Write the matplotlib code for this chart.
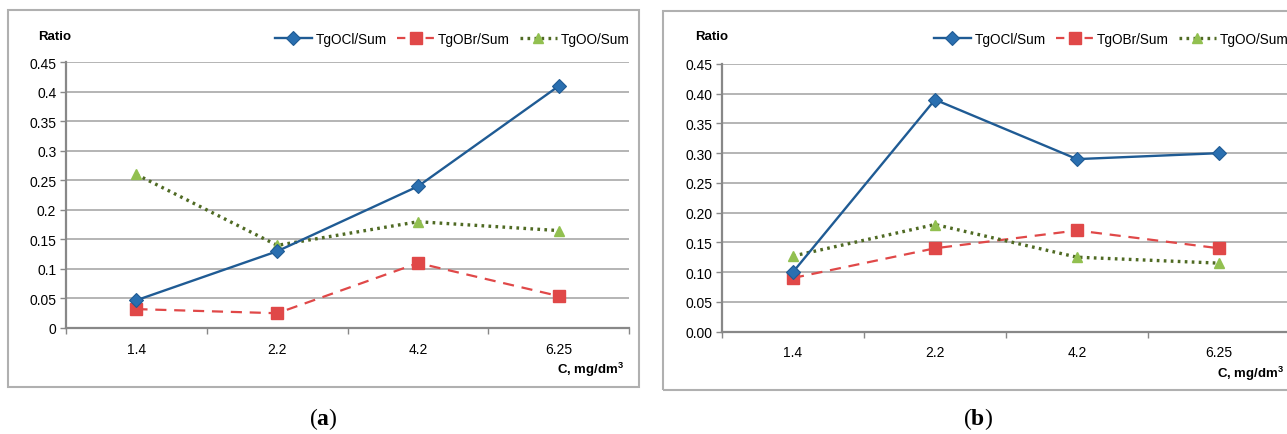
import numpy as np
import matplotlib
matplotlib.use('Agg')
import matplotlib.pyplot as plt
from matplotlib.patches import Rectangle
from matplotlib.lines import Line2D

plt.rcParams['font.family'] = ['Liberation Sans', 'DejaVu Sans']
plt.rcParams['mathtext.fontset'] = 'custom'
plt.rcParams['mathtext.rm'] = 'Liberation Serif'
plt.rcParams['mathtext.bf'] = 'Liberation Serif:bold'

# data
conc = ['1.4', '2.2', '4.2', '6.25']
series_names = ['TgOCl/Sum', 'TgOBr/Sum', 'TgOO/Sum']

a_ocl = [0.047, 0.13, 0.24, 0.41]
a_obr = [0.032, 0.025, 0.11, 0.054]
a_oo = [0.26, 0.14, 0.18, 0.165]

b_ocl = [0.10, 0.39, 0.29, 0.30]
b_obr = [0.09, 0.14, 0.17, 0.14]
b_oo = [0.127, 0.18, 0.125, 0.115]

yticks = [0, 0.05, 0.1, 0.15, 0.2, 0.25, 0.3, 0.35, 0.4, 0.45]
a_ylabels = ['0', '0.05', '0.1', '0.15', '0.2', '0.25', '0.3', '0.35', '0.4', '0.45']
b_ylabels = ['0.00', '0.05', '0.10', '0.15', '0.20', '0.25', '0.30', '0.35', '0.40', '0.45']

W, H = 1287, 435
fig = plt.figure(figsize=(W / 100, H / 100), dpi=100)

blue = '#1f5b94'
blue_m = '#2a6fb0'
red = '#e04848'
green = '#4f6a23'
green_m = '#92c050'


def px(x0, y0, x1, y1):
    # pixel box -> figure fraction [left, bottom, width, height]
    return [x0 / W, 1 - y1 / H, (x1 - x0) / W, (y1 - y0) / H]


def panel(ax_box, frame_box, ocl, obr, oo, ylabels, ratio_xy, unit_xy, leg_xy, cap_xy, cap):
    fig.patches.append(Rectangle(frame_box[:2], frame_box[2], frame_box[3],
                                 transform=fig.transFigure, fill=False,
                                 edgecolor='#b0b0b0', linewidth=1.5, zorder=0))
    ax = fig.add_axes(ax_box)
    x = np.arange(len(conc)) + 0.5
    l1, = ax.plot(x, ocl, color=blue, lw=1.7, marker='D', ms=7,
                  mfc=blue_m, mec=blue, mew=0.8, zorder=4)
    ax.plot(x, obr, color=red, lw=1.6, ls=(0, (5, 3.5)), marker='s', ms=8,
            mfc=red, mec=red, zorder=3)
    ax.plot(x, oo, color=green, lw=2.4, ls=(0, (0.8, 1.3)), marker='^', ms=7,
            mfc=green_m, mec=green_m, zorder=3)
    # legend proxies so the short handles look like the original
    h2 = Line2D([], [], color=red, lw=1.6, ls=(0, (3.75, 9.1)), marker='s', ms=8,
                mfc=red, mec=red)
    h3 = Line2D([], [], color=green, lw=2.4, ls=(0, (0.8, 1.3)), marker='^', ms=7,
                mfc=green_m, mec=green_m)
    ax.set_xlim(0, len(conc))
    ax.set_ylim(0, 0.45)
    ax.set_yticks(yticks)
    ax.set_yticklabels(ylabels)
    ax.set_xticks(np.arange(len(conc) + 1))
    ax.set_xticklabels([])
    ax.set_xticks(x, minor=True)
    ax.set_xticklabels(conc, minor=True)
    ax.tick_params(axis='x', which='minor', length=0, pad=10, labelsize=10)
    ax.tick_params(axis='x', which='major', length=4, color='#888888', width=1)
    ax.tick_params(axis='y', length=4, color='#888888', width=1, labelsize=10, pad=3)
    ax.grid(axis='y', color='#a8a8a8', lw=1.2)
    ax.set_axisbelow(True)
    for s in ['top', 'right']:
        ax.spines[s].set_visible(False)
    for s in ['left', 'bottom']:
        ax.spines[s].set_color('#888888')
        ax.spines[s].set_linewidth(1.6)
    fig.text(ratio_xy[0] / W, 1 - ratio_xy[1] / H, 'Ratio', ha='center', va='center',
             fontsize=9.5, fontweight='bold')
    fig.text(unit_xy[0] / W, 1 - unit_xy[1] / H, 'C, mg/dm$^\\mathregular{3}$', ha='right',
             va='center', fontsize=9.5, fontweight='bold')
    fig.legend([l1, h2, h3], series_names, loc='center left',
               bbox_to_anchor=(leg_xy[0] / W, 1 - leg_xy[1] / H), ncol=3, frameon=False,
               fontsize=9.8, handlelength=2.7, handletextpad=0.3, columnspacing=0.75,
               borderaxespad=0, borderpad=0)
    fig.text(cap_xy[0] / W, 1 - cap_xy[1] / H, cap, ha='center', va='center', fontsize=17)
    return ax


panel(px(66, 63.3, 629.3, 329), px(8, 11, 639, 387.7), a_ocl, a_obr, a_oo, a_ylabels,
      (55, 37), (624, 370), (275, 40), (323, 419), r'$\mathrm{(}\mathbf{a}\mathrm{)}$')
panel(px(722, 65, 1290, 332.5), px(663.3, 12, 1300, 390.7), b_ocl, b_obr, b_oo, b_ylabels,
      (712, 37), (1284, 374), (934, 40), (978, 419), r'$\mathrm{(}\mathbf{b}\mathrm{)}$')

fig.savefig('out.png', dpi=100)
